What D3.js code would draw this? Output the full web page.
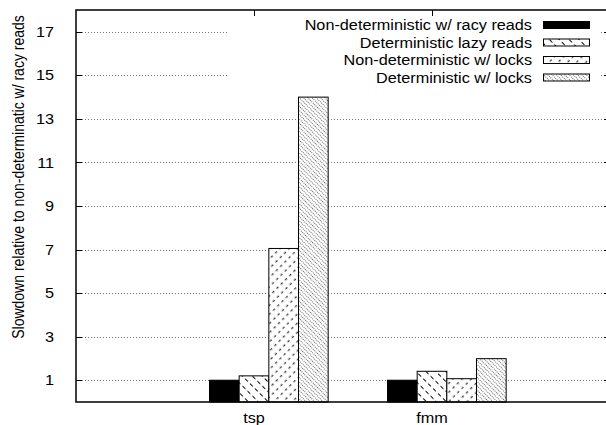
<!DOCTYPE html>
<html>
<head>
<meta charset="utf-8">
<script src="https://cdn.jsdelivr.net/npm/d3@7"></script>
<style>
  html, body { margin: 0; padding: 0; background: #fff; }
  svg { display: block; }
  text { font-family: "Liberation Sans", Arial, Helvetica, sans-serif; fill: #000; }
</style>
</head>
<body>
<svg id="chart" width="606" height="425"></svg>
<script>
// Benchmarks on the x axis
const categories = ["tsp", "fmm"];

// Series names as they appear in the key
const seriesNames = [
  "Non-deterministic w/ racy reads",
  "Deterministic lazy reads",
  "Non-deterministic w/ locks",
  "Deterministic w/ locks"
];

// Slowdown per benchmark for each series
const nondetRacyReads = [1.0, 1.0];
const detLazyReads    = [1.2, 1.41];
const nondetLocks     = [7.05, 1.07];
const detLocks        = [14.0, 1.99];

// Y axis tick values
const yTicks = [1, 3, 5, 7, 9, 11, 13, 15, 17];

const seriesValues = [nondetRacyReads, detLazyReads, nondetLocks, detLocks];

const svg = d3.select("#chart");
const plotLeft = 76, plotRight = 610, plotTop = 10, plotBottom = 402;
const fontSize = 14;
const stretch = 1.16; // text is set slightly wide

const x = d3.scaleLinear().domain([-1, 2]).range([plotLeft, plotRight]);
const y = d3.scaleLinear().domain([0, 18]).range([plotBottom, plotTop]);

// Hatched fill patterns: dashed lines per tile, then rotated
const defs = svg.append("defs");
function hatch(id, spacing, dashOn, dashOff, angle, color, stagger) {
  const period = dashOn + dashOff;
  const p = defs.append("pattern")
    .attr("id", id)
    .attr("patternUnits", "userSpaceOnUse")
    .attr("width", spacing * 2).attr("height", period)
    .attr("patternTransform", `rotate(${angle})`);
  p.append("rect").attr("width", spacing * 2).attr("height", period).attr("fill", "#fff");
  [0, 1].forEach(k => {
    p.append("line")
      .attr("x1", spacing * (k + 0.5)).attr("x2", spacing * (k + 0.5))
      .attr("y1", 0).attr("y2", period)
      .attr("stroke", color).attr("stroke-width", 1)
      .attr("stroke-dasharray", `${dashOn},${dashOff}`)
      .attr("stroke-dashoffset", k * period * stagger);
  });
}
hatch("pLazy", 7, 4, 3, -45, "#000", 0.5);
hatch("pLocks", 6.5, 2.5, 3.5, 45, "#000", 0);
hatch("pDetLocks", 3, 1, 1, -45, "#666", 0);
const fills = ["#000", "url(#pLazy)", "url(#pLocks)", "url(#pDetLocks)"];

// Horizontal dotted grid
svg.append("g").selectAll("line").data(yTicks).join("line")
  .attr("x1", plotLeft + 6).attr("x2", plotRight - 6)
  .attr("y1", d => Math.round(y(d)) + 0.5).attr("y2", d => Math.round(y(d)) + 0.5)
  .attr("stroke", "#777").attr("stroke-width", 1)
  .attr("stroke-dasharray", "1,2");

// Bars
const w = 1 / 6;
const barData = [];
categories.forEach((c, ci) => {
  seriesValues.forEach((vals, si) => {
    barData.push({ ci, si, v: vals[ci] });
  });
});
svg.append("g").selectAll("rect").data(barData).join("rect")
  .attr("x", d => x(d.ci + (d.si - 1.5) * w))
  .attr("width", d => x(d.ci + (d.si - 0.5) * w) - x(d.ci + (d.si - 1.5) * w))
  .attr("y", d => y(d.v))
  .attr("height", d => plotBottom - y(d.v))
  .attr("fill", d => fills[d.si])
  .attr("stroke", "#000").attr("stroke-width", 1);

// Key with an opaque background
const key = svg.append("g");
key.append("rect").attr("x", 228).attr("y", 11).attr("width", 372).attr("height", 75).attr("fill", "#fff");
seriesNames.forEach((name, i) => {
  const cy = 25 + i * 17.5;
  key.append("text")
    .attr("transform", `translate(532,${cy}) scale(${stretch},1)`)
    .attr("text-anchor", "end").attr("dominant-baseline", "central")
    .attr("font-size", fontSize).text(name);
  key.append("rect")
    .attr("x", 543.5).attr("y", cy - 3.5).attr("width", 46).attr("height", 7)
    .attr("fill", fills[i]).attr("stroke", "#000").attr("stroke-width", 1);
});

// Border and ticks
const frame = svg.append("g").attr("stroke", "#000").attr("fill", "none");
frame.append("path")
  .attr("d", `M${plotRight},${plotTop}H${plotLeft}V${plotBottom}H${plotRight}`)
  .attr("stroke-width", 1.5);
yTicks.forEach(t => {
  const yy = Math.round(y(t)) + 0.5;
  frame.append("line").attr("x1", plotLeft).attr("x2", plotLeft + 6).attr("y1", yy).attr("y2", yy);
  frame.append("line").attr("x1", plotRight - 6).attr("x2", plotRight).attr("y1", yy).attr("y2", yy);
});
categories.forEach((c, i) => {
  const xx = Math.round(x(i)) + 0.5;
  frame.append("line").attr("x1", xx).attr("x2", xx).attr("y1", plotTop).attr("y2", plotTop + 6);
});

// Y tick labels
svg.append("g").selectAll("text").data(yTicks).join("text")
  .attr("transform", d => `translate(54,${y(d)}) scale(${stretch},1)`)
  .attr("text-anchor", "end").attr("dominant-baseline", "central")
  .attr("font-size", fontSize).text(d => d);

// X tick labels
svg.append("g").selectAll("text").data(categories).join("text")
  .attr("transform", (d, i) => `translate(${x(i)},423) scale(${stretch},1)`)
  .attr("text-anchor", "middle")
  .attr("font-size", fontSize).text(d => d);

// Y axis title
svg.append("text")
  .attr("transform", `translate(18,177) scale(${stretch},1) rotate(-90)`)
  .attr("text-anchor", "middle").attr("dominant-baseline", "central")
  .attr("font-size", fontSize)
  .text("Slowdown relative to non-determinatic w/ racy reads");
</script>
</body>
</html>
